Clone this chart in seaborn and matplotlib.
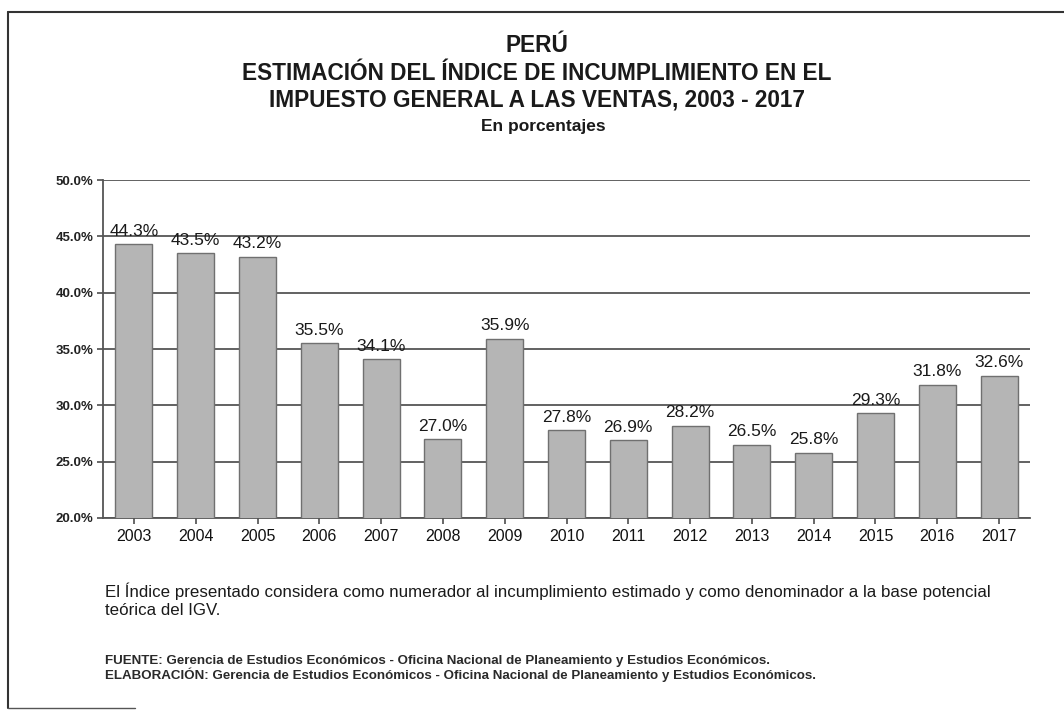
import matplotlib
matplotlib.use("Agg")
import matplotlib.pyplot as plt
import seaborn as sns
import pandas as pd
from matplotlib.lines import Line2D
from matplotlib.ticker import FuncFormatter, MultipleLocator

years = ["2003", "2004", "2005", "2006", "2007", "2008", "2009", "2010",
         "2011", "2012", "2013", "2014", "2015", "2016", "2017"]
values = [44.3, 43.5, 43.2, 35.5, 34.1, 27.0, 35.9, 27.8,
          26.9, 28.2, 26.5, 25.8, 29.3, 31.8, 32.6]

title_lines = ["PERÚ",
               "ESTIMACIÓN DEL ÍNDICE DE INCUMPLIMIENTO EN EL",
               "IMPUESTO GENERAL A LAS VENTAS, 2003 - 2017"]
subtitle = "En porcentajes"
note = ("El Índice presentado considera como numerador al incumplimiento estimado y como denominador a la base potencial\n"
        "teórica del IGV.")
source = ("FUENTE: Gerencia de Estudios Económicos - Oficina Nacional de Planeamiento y Estudios Económicos.\n"
          "ELABORACIÓN: Gerencia de Estudios Económicos - Oficina Nacional de Planeamiento y Estudios Económicos.")

df = pd.DataFrame({"year": years, "value": values})

sns.set_theme(style="white")
plt.rcParams["font.family"] = ["Liberation Sans", "DejaVu Sans"]

W, H = 1064, 713
fig = plt.figure(figsize=(W / 100, H / 100), dpi=100)
fig.patch.set_facecolor("white")

# axes placement in pixels
left, right, top, bottom = 103, 1030, 180, 518
ax = fig.add_axes([left / W, 1 - bottom / H, (right - left) / W, (bottom - top) / H])

sns.barplot(data=df, x="year", y="value", ax=ax, color="#b5b5b5",
            edgecolor="#707070", linewidth=1.0, width=0.6, saturation=1, zorder=3)

ax.set_ylim(20, 50)
ax.yaxis.set_major_locator(MultipleLocator(5))
ax.yaxis.set_major_formatter(FuncFormatter(lambda v, p: f"{v:.1f}%"))
ax.grid(axis="y", color="#555555", linewidth=1.3, zorder=0)
ax.set_axisbelow(True)
ax.set_xlabel("")
ax.set_ylabel("")
for s in ["top", "right"]:
    ax.spines[s].set_visible(False)
for s in ["left", "bottom"]:
    ax.spines[s].set_color("#555555")
    ax.spines[s].set_linewidth(1.3)
ax.tick_params(axis="y", labelsize=9.5, length=4, color="#555555", left=True, pad=3)
ax.tick_params(axis="x", labelsize=11.5, length=4, color="#555555", bottom=True, pad=4)
for lab in ax.get_yticklabels():
    lab.set_fontweight("bold")
    lab.set_color("#222222")
for lab in ax.get_xticklabels():
    lab.set_color("#111111")

for i, v in enumerate(values):
    ax.annotate(f"{v:.1f}%", (i, v), xytext=(0, 4), textcoords="offset points",
                ha="center", va="bottom", fontsize=12.5, color="#1a1a1a", zorder=4)

# titles
tys = [45, 73, 100]
for t, y in zip(title_lines, tys):
    fig.text(537 / W, 1 - y / H, t, ha="center", va="center", fontsize=16.3,
             fontweight="bold", color="#1a1a1a")
fig.text(543 / W, 1 - 127 / H, subtitle, ha="center", va="center", fontsize=12.5,
         fontweight="bold", color="#1a1a1a")

fig.text(105 / W, 1 - 583 / H, note, ha="left", va="top", fontsize=12.2,
         color="#1a1a1a", linespacing=1.2)
fig.text(105 / W, 1 - 655 / H, source, ha="left", va="top", fontsize=9.6,
         fontweight="bold", color="#2a2a2a", linespacing=1.0)

# scanned frame lines
fig.add_artist(Line2D([8 / W, 1.0], [1 - 12 / H, 1 - 12 / H], color="#333333", lw=1.5))
fig.add_artist(Line2D([8 / W, 8 / W], [1 - 12 / H, 1 - 708 / H], color="#333333", lw=1.5))
fig.add_artist(Line2D([8 / W, 135 / W], [1 - 708 / H, 1 - 708 / H], color="#555555", lw=1.0))

fig.savefig("out.png", dpi=100, facecolor="white")
